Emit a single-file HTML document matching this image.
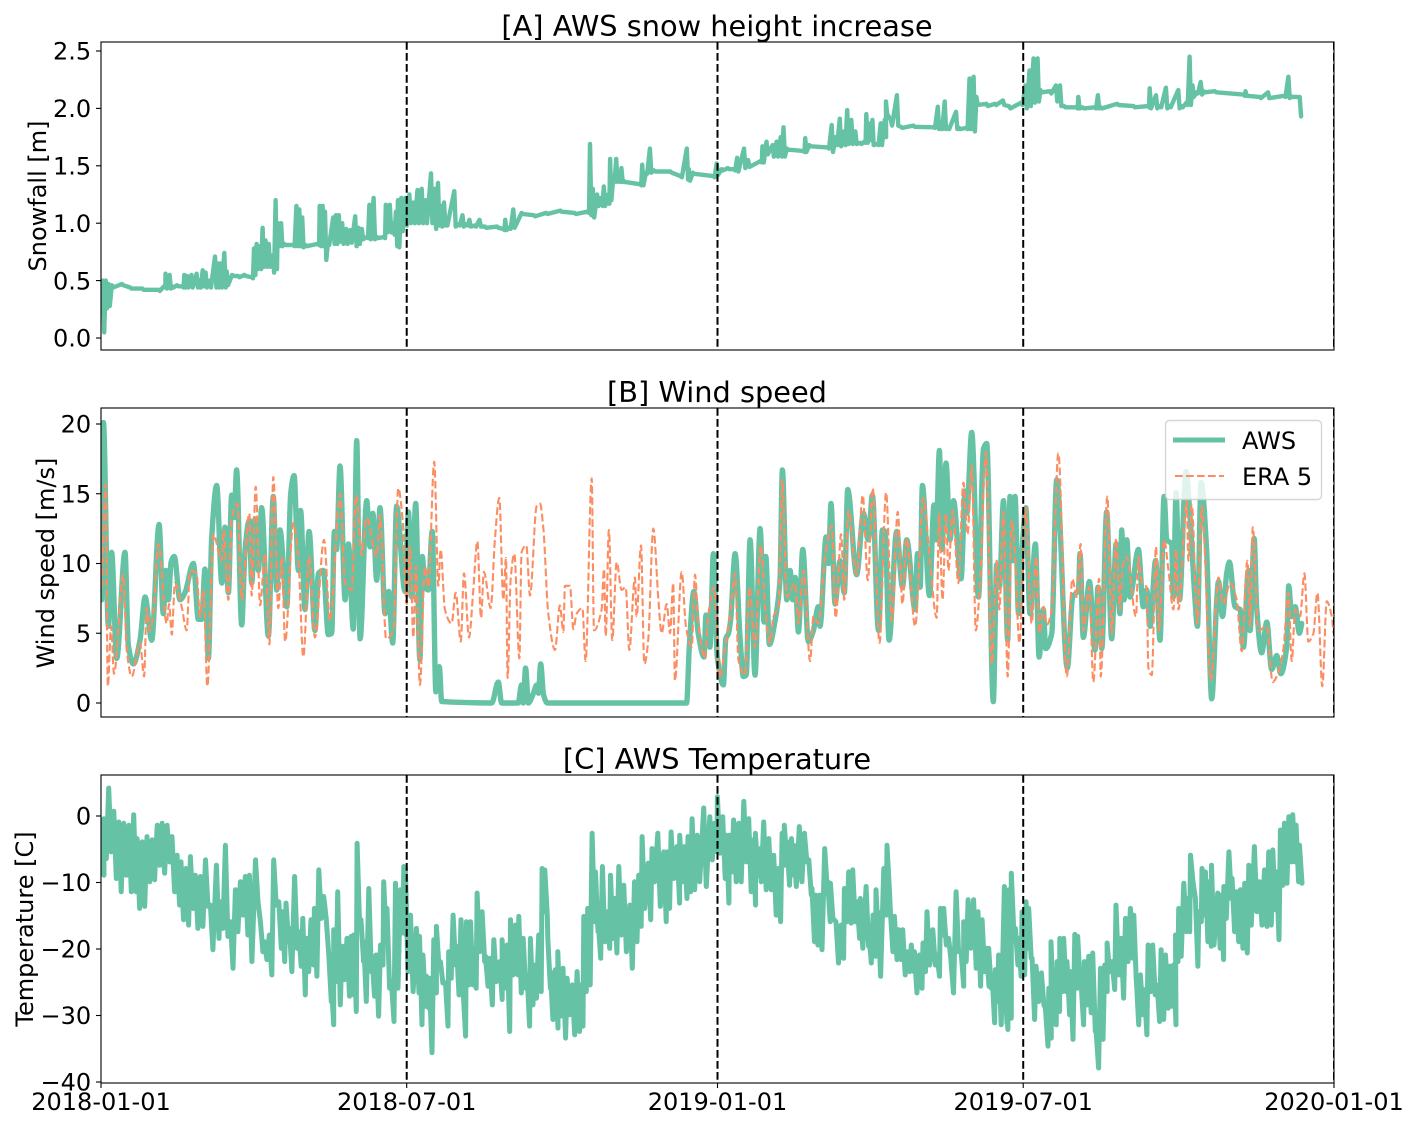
<!DOCTYPE html>
<html lang="en">
<head>
<meta charset="utf-8">
<title>AWS snow height, wind speed and temperature</title>
<style>
html,body{margin:0;padding:0;background:#fff;}
#figure{display:block;position:absolute;left:0;top:0;}
text{font-family:"DejaVu Sans","Liberation Sans",sans-serif;fill:#000;}
.title{font-size:28.8px;text-anchor:middle;}
.ylabel{font-size:24px;text-anchor:middle;}
.legend-text{font-size:24px;}
</style>
</head>
<body>
<svg id="figure" width="1416" height="1123" viewBox="0 0 1416 1123" xmlns="http://www.w3.org/2000/svg">
  <defs>
    <clipPath id="clip-a"><rect x="101" y="42" width="1233" height="308"/></clipPath>
    <clipPath id="clip-b"><rect x="101" y="408" width="1233" height="309"/></clipPath>
    <clipPath id="clip-c"><rect x="101" y="775" width="1233" height="308"/></clipPath>
  </defs>
  <text class="title" x="717" y="36">[A] AWS snow height increase</text>
  <text class="title" x="717" y="402">[B] Wind speed</text>
  <text class="title" x="717" y="769">[C] AWS Temperature</text>
  <text class="ylabel" transform="translate(46,196) rotate(-90)">Snowfall [m]</text>
  <text class="ylabel" transform="translate(54,563) rotate(-90)">Wind speed [m/s]</text>
  <text class="ylabel" transform="translate(33,929) rotate(-90)">Temperature [C]</text>
  <g id="panel-a"></g>
  <g id="panel-b"></g>
  <g id="panel-c"></g>
  <g id="legend">
    <rect x="1165.5" y="420.5" width="156" height="79" rx="4" ry="4" fill="#ffffff" fill-opacity="0.8" stroke="#cccccc" stroke-opacity="0.8" stroke-width="1.4"/>
    <line x1="1173" y1="440" x2="1225" y2="440" stroke="#66c2a5" stroke-width="5"/>
    <text class="legend-text" x="1242" y="449">AWS</text>
    <line x1="1175" y1="476" x2="1224" y2="476" stroke="#fc8d62" stroke-width="2.1" stroke-dasharray="7.7 3.3"/>
    <text class="legend-text" x="1242" y="485">ERA 5</text>
  </g>
</svg>
<script>
// Shared axis data
const xTickDays = [0, 181, 365, 546, 730];
const xTickLabels = ["2018-01-01", "2018-07-01", "2019-01-01", "2019-07-01", "2020-01-01"];
const snowTicks = [0, 0.5, 1, 1.5, 2, 2.5];
const snowTickLabels = ["0.0", "0.5", "1.0", "1.5", "2.0", "2.5"];
const windTicks = [0, 5, 10, 15, 20];
const windTickLabels = ["0", "5", "10", "15", "20"];
const tempTicks = [-40, -30, -20, -10, 0];
const tempTickLabels = ["−40", "−30", "−20", "−10", "0"];

// Panel A: AWS snow height (m). Days since 2018-01-01, with the local high and low read at each day.
const snowDays = [
1.5,3.2,4.8,6.8,12.8,17.6,24.9,34.5,37.7,38.6,
41,42.5,45.4,48.5,49.7,51.4,53.9,57,58.7,60.6,
62.3,64.7,67.9,69.5,71.2,73.4,74.8,78,81.6,85.3,
89.6,91,92.5,94.4,96.1,97.8,99.7,102.1,103.8,105,
107,108.9,114.2,116.1,117.8,119.5,121.4,128.7,129.9,131.6,
133,134.7,137.9,139.5,141.2,143.2,145.6,148,150.9,152.8,
154.8,157.7,159.3,161.8,163.7,167.8,169,171.4,173.4,175,
176.2,178.2,180.6,183,185.4,187.8,190.3,192.6,195.8,198,
199.9,201.6,203.5,204.7,209.6,212,214.4,216.8,218.5,221.6,
224.5,227.7,234.9,238.5,239.7,242.1,244.5,249.4,256.6,263.9,
272.3,280.8,288.5,289.9,291.6,294.1,296.5,298.1,300.6,301.8,
303.7,305.4,307.3,308.5,309.7,319.4,320.8,323,325.4,327.8,
337.5,343.5,347.2,348.4,350.8,362.9,364.9,367.8,371.5,375.1,
377,381.1,383.5,390.8,392,394.4,398,400.4,402.8,404.5,
406.5,416.1,417.3,419.7,430.6,433,435.4,437.8,440.3,442.2,
444.6,447,449.9,452.3,453.5,455.9,457.1,460,462,464.4,
465.1,468,471.6,474,481.3,493.4,495.8,497.7,499.9,501.8,
506.6,508.3,512.7,514.6,517,518.7,524.7,529.6,534.4,538,
545.2,547.7,550.1,552.5,554.9,556.6,562.2,565.8,568.2,570.6,
577.8,579,581.5,588.7,590.6,592.3,602,611.7,620.1,621.3,
625,627.3,630.9,632.9,638.2,640.1,643,644.9,646.6,649,
651.5,653.2,659.9,676.8,678,686.4,691.3,700.9,703.4,704.6,
709.4,710.1];
const snowHigh = [
0.5,0.5,0.47,0.46,0.47,0.44,0.43,0.42,0.45,0.56,
0.55,0.45,0.46,0.45,0.55,0.54,0.55,0.56,0.5,0.59,
0.57,0.5,0.71,0.65,0.65,0.74,0.58,0.55,0.54,0.55,
0.53,0.78,0.82,0.8,0.96,0.85,0.82,0.72,1.2,1.0,
1.0,0.82,0.81,1.15,1.12,1.05,0.81,0.82,1.15,1.15,
1.1,0.82,1.05,1.07,1.07,1.0,0.95,0.94,1.06,0.96,
0.95,0.88,1.16,1.22,0.88,0.88,1.16,1.16,1.0,1.1,
1.2,1.22,1.22,1.25,1.18,1.29,1.3,1.2,1.435,1.3,
1.35,1.15,1.18,0.99,1.28,0.99,1.07,0.99,1.03,0.98,
1.03,0.97,0.97,0.95,1.03,0.96,1.12,1.09,1.07,1.09,
1.11,1.09,1.1,1.69,1.3,1.25,1.22,1.32,1.25,1.56,
1.4,1.56,1.45,1.48,1.37,1.34,1.51,1.44,1.65,1.46,
1.45,1.41,1.65,1.47,1.44,1.41,1.52,1.47,1.48,1.47,
1.57,1.65,1.55,1.54,1.67,1.71,1.68,1.71,1.75,1.835,
1.65,1.63,1.74,1.68,1.66,1.855,1.75,1.91,1.8,1.985,
1.9,1.8,1.7,1.71,1.95,1.87,1.9,1.69,1.87,1.9,
2.06,1.9,2.115,1.84,1.85,1.835,2.015,1.83,2.06,1.83,
1.97,1.83,1.83,2.26,2.275,2.1,2.04,2.04,2.07,2.02,
2.05,2.2,2.33,2.435,2.435,2.16,2.15,2.2,2.2,2.02,
2.01,2.1,2.01,2.01,2.115,2.01,2.04,2.02,2.02,2.175,
2.115,2.02,2.18,2.02,2.16,2.02,2.05,2.45,2.2,2.14,
2.23,2.15,2.15,2.12,2.15,2.1,2.14,2.11,2.275,2.11,
2.1,2.1];
const snowLow = [
0.05,0.26,0.28,0.44,0.46,0.43,0.42,0.41,0.44,0.43,
0.43,0.44,0.45,0.44,0.44,0.44,0.44,0.44,0.44,0.45,
0.44,0.44,0.44,0.44,0.44,0.44,0.46,0.54,0.53,0.54,
0.52,0.55,0.6,0.6,0.62,0.62,0.62,0.57,0.6,0.8,
0.8,0.81,0.8,0.8,0.8,0.79,0.8,0.81,0.8,0.8,
0.68,0.81,0.82,0.82,0.84,0.82,0.82,0.83,0.8,0.82,
0.86,0.87,0.86,0.86,0.87,0.87,0.92,0.92,0.9,0.8,
0.79,0.93,0.98,1.0,1.0,1.0,1.0,1.0,1.0,0.95,
0.98,0.97,0.98,0.98,0.97,0.98,0.97,0.98,0.97,0.97,
0.97,0.96,0.96,0.94,0.94,0.95,0.96,1.08,1.06,1.08,
1.1,1.08,1.09,1.07,1.05,1.15,1.15,1.15,1.17,1.2,
1.36,1.36,1.36,1.36,1.36,1.33,1.33,1.43,1.44,1.45,
1.44,1.4,1.38,1.37,1.43,1.4,1.42,1.46,1.47,1.46,
1.45,1.48,1.49,1.53,1.53,1.6,1.58,1.58,1.58,1.58,
1.64,1.62,1.62,1.67,1.65,1.62,1.68,1.67,1.68,1.69,
1.69,1.69,1.69,1.7,1.7,1.72,1.68,1.68,1.68,1.75,
1.95,1.85,1.85,1.83,1.84,1.83,1.82,1.82,1.82,1.82,
1.82,1.82,1.82,1.82,1.8,2.03,2.02,2.03,2.03,2.0,
2.03,2.0,2.02,2.05,2.06,2.14,2.13,2.06,2.02,2.01,
2.0,2.0,2.0,2.0,2.0,2.0,2.03,2.01,2.01,2.0,
2.0,2.01,2.0,2.01,2.0,2.01,2.03,2.03,2.1,2.13,
2.12,2.14,2.14,2.11,2.11,2.09,2.09,2.1,2.09,2.1,
2.09,1.93];

// Panel B: wind speed (m/s), AWS series
const awsWindDays = [0.4,1.4,4.4,6.3,9.3,14.2,16.2,19.2,23.1,26.1,30,34.4,36.9,38.5,39.9,41.5,43.4,46.8,49.7,54.7,57.6,59.6,61.6,63.6,65.5,68.5,71.5,73.4,75.4,77.4,78.8,80.3,83.3,85.3,87.8,89.2,91.2,93.2,95.1,99.1,102,104,106,110,112.3,114.3,116.9,118.2,120.8,123.2,126.7,128.7,131.6,134.6,136.6,138.2,139.5,141.5,144.5,146.5,149.4,151.4,153.4,157.3,159.3,160.9,163.2,165.2,168.2,170.3,172.7,175,180,182,184,186.3,188.8,190.2,191.8,193.8,196.1,198.3,200.3,201.7,231.3,235.2,237.2,247,249,250,251.4,253,256,258,259,260.3,262,264.2,346.7,348.3,351,353.6,357,358.2,360.5,362.6,364.9,368.5,369.9,371.5,372.8,375.4,378.4,380.3,382,384.3,387.2,390.2,392.6,393.6,395.7,399.1,402,403.4,406,408,409.5,411,412.9,415.5,418.8,421.8,424.7,425.7,429.3,430.7,432.2,434.6,437.6,440.1,442.1,447.4,451.4,454.3,456.7,460.3,462.6,464.2,466.6,471.1,474.5,477,482,483.4,485,486.3,490.5,493.2,494.4,496.4,497.8,500.3,502.7,504.7,509.2,511.6,512.6,515.5,519.5,522.4,524.4,528.3,530.3,531.9,534.3,536.8,538.2,539.8,541.2,543.2,545.7,547.5,550,553.2,555.4,557.9,559.3,562.9,565.8,572.1,575.3,578.7,579.6,581.6,585.2,588.5,590.3,592.5,595.4,598.4,601,603.3,604.3,605.7,607.3,609.2,614.2,617.1,619.1,621.1,624.4,627,629.4,631,633.9,634.9,636.5,638.5,642.4,644.8,647.7,649.1,651.3,654.6,657.6,660.6,661.6,664,666.5,668.1,671.4,674.4,676.4,679.3,680.3,682.7,684.2,687.2,690.2,693.1,696.1,698.5,702,703.2,705,707,709.5,710.9];
const awsWindValues = [7.4,20.1,5.5,10.8,3.2,10.8,4.1,2.8,4.5,7.6,4.5,12.8,6.4,9.5,7.4,10.1,10.5,7.4,7.9,10,6,6,9.6,3.2,11.7,15.6,8.6,12.6,7.9,14.9,13.3,16.7,5.6,11,13.1,8.6,13.2,9.5,14,4.8,14.8,8.1,12.4,6.9,15,16.3,9.5,13.8,6.7,12.3,5.2,9.3,9.5,4.9,5,12.3,11,17,7.4,11.4,5.3,18.8,4.6,14.5,11.2,13.6,8.8,14,6.4,8,4.3,14.1,8,13.7,7.6,14.3,3.1,10.5,8.3,8.1,12.3,0.8,2.6,0.1,0,1.5,0,0,1.3,0,2.5,0,0.7,1.3,0.7,2.8,0.6,0,0,4,8,5,3.3,6.3,4,10.7,3.3,1.3,4.6,5,6,10.7,4.6,1.9,2,11.7,2,12.5,5.8,10.5,4.2,5.9,8.8,16.7,7.4,9.5,7.4,9,5.1,11,4.4,5.2,6.9,5.5,11.9,10,14.3,7.1,10.2,7.9,15.3,9.2,13.6,11.7,14.9,5.2,12.4,12.3,4.5,12.3,8.3,11.7,6.7,10.7,8.3,15.6,7.7,14.2,11.7,18.1,11,17.2,11.7,14.5,8.9,15.2,13.6,19.4,7.6,18.2,18.6,0.1,9.9,8.3,14.5,4.5,14.8,10.2,14.8,6.4,11.7,14,6.4,11.4,3.3,6.7,3.9,5,16,2.5,7.6,8.1,10.7,4.7,8.7,3.8,8.3,3.9,13.7,4.6,11.4,6.4,12.4,7.4,11.7,7.6,11,6.9,8.1,5.5,10.2,4.5,14.8,11.7,11.4,7.6,15.1,7.4,16.6,13.3,7.4,5.5,15.8,11,0.3,7.4,8.7,6.2,9.3,10.1,6.9,6.7,4,9.5,5.2,11.8,6.9,3.6,5.8,2.4,3.4,2.1,4,8.4,6.2,6.9,5,5.7];

// Panel B: wind speed (m/s), ERA 5 series
const eraWindDays = [0.4,2.8,4,6,7.7,13.2,15.2,18.2,23.1,25.5,27,29,31,34,38.9,40.3,41.9,43.8,47.8,50.7,52.7,56.6,58.6,60.6,63,66.5,71.5,72.5,75.4,77.4,80.7,83.3,87.8,89.2,91.6,94.2,97.1,99.7,102,105,107,109,113.9,116.9,119.8,123.2,126.7,132,135.6,141.5,144.5,148.4,151,154.4,157.3,163.2,165.2,168.8,173.1,176,178.6,181,183,184.9,186.5,188.8,191.8,193.8,197.3,199.7,201.1,203.6,207.6,210,213,214.9,217.9,220.4,222.8,225,226.7,230.7,233.2,235.8,238.2,239.8,240.7,242.5,244.7,247.7,249,251.8,254,257.9,259.9,261.9,264.8,268.8,271.7,273.7,274.7,277.7,279.6,281.6,285,286.9,290.5,291.9,296.4,297.8,298.8,300.7,302.7,305.3,308.2,310.6,312.8,316.1,317.1,319.7,321.7,324,327,330,331.9,334.9,336.9,338.8,339.8,343.8,346.3,349.7,351.7,353.6,357.6,359.6,363,366.1,369.5,372.4,375.4,377.4,381.3,383.9,387.2,390.6,393.2,396.1,398.1,401.1,403.4,406,410.9,412.9,415.9,419.8,421.8,424.7,428.7,432.6,435,438.2,440.1,442.5,447.4,451,454,456.9,460.9,464.8,468.2,471.7,474.5,477,482,486.9,490.9,494.8,496.2,498.2,500.3,501.7,504.3,507.6,510.6,513,515.5,517.9,520.1,524,527.4,530.3,531.9,534.3,536.8,539.2,541.2,543.7,547.5,551,553.6,555.6,558,559.9,562.9,566.8,571.8,575.1,577.7,580,581.6,585.2,587.5,590.9,591.9,595.8,598.4,601,603.3,604.9,607.3,612.8,614.2,616.2,619.1,620.1,622.1,624.6,626.4,629.4,632,634.9,636.5,637.9,642.8,643.8,645.8,649.1,651.7,657.2,661.6,664.5,668.5,672.4,675.4,678.7,680.3,681.9,685.2,690.2,693.7,696.1,700,703,705,707,709.9,712.5,714.8,717.8,720.2,723.1,725.7,728.7,729.7];
const eraWindValues = [8.3,15.7,1.2,5.5,2.1,9.2,3.8,1.9,4.3,1.9,6.8,5.2,6.4,11.4,5.7,7.1,4.9,8.6,6.9,5.2,9.5,9.3,6.2,8.1,1.2,12.1,10.2,12.4,7.4,13.3,14.3,7.4,13.6,7.7,15.5,7,10.7,4.2,16.2,6.8,10.5,4.4,12.9,10.2,3.3,10.5,4.7,11.7,5.9,15,8.6,8.1,14.9,10.6,13.3,10.5,13.5,4.6,5.2,15.4,13.1,7.1,11.2,4.7,9.8,1.3,9.8,8.3,17.3,8.4,11,6.7,5.7,7.9,4.4,9.3,4.7,8.1,11.6,6.1,9.4,6.8,11.7,14.7,7.4,10.4,1.8,8.8,10.7,3.2,10.8,11.3,7.7,14.1,14.3,12.5,6.4,3.8,7,5.1,8.4,8.4,5.3,6.4,6.8,3,16.1,5.2,6.7,9.6,4.8,12.4,4.5,10.1,8.1,8.3,3.8,9,6.2,11.3,2.8,4.5,12.5,7.4,5,7.1,5,8.6,1.6,9.4,5.5,4,9.2,5.7,3.2,6.4,8.3,1.8,4,6.2,9.3,3.1,2,8.3,4,11.3,6.9,4.3,6.2,6.9,16,7.6,8.6,5.7,9.5,3,6.2,5.7,10.5,12.7,6.1,12.1,7.4,13.8,9.2,14.9,8.8,15.4,4.3,15.1,5.9,13.7,7.1,11.8,5.5,14.7,10,6.1,13.6,7.4,13.6,9.5,13.8,8.6,15.8,12.1,17,5.2,7.9,18,2.8,10.2,6.7,13.7,1.9,13.1,10.5,4.3,14,5.7,10.5,5,6.9,5.6,6.7,17.9,1.9,8.9,7.6,11.4,5.2,8.3,1.5,8.9,1.9,14.8,5,11.8,6.7,9.8,10.5,6.2,10.5,8.6,8.3,2.5,2,11.2,5.2,11.7,9.5,6.7,11,6.7,14.5,10.2,14.2,5.7,14.1,1.6,9,7.1,8.6,7.4,3.7,10.2,5.5,12.6,5.2,5.5,1.5,1.9,3.8,7.9,3,6.7,6.2,9.3,4.4,5,7.9,1.2,7.3,6.2,5];

// Panel C: AWS temperature (deg C). Days since 2018-01-01, with the local high and low read at each day.
const tempDays = [
1,2.4,5.3,8.3,11.2,14.2,17.2,20.1,22.1,25.1,
28,31,34,36.9,39.9,42.8,45.8,48.1,51.1,53.7,
56.6,59.6,62.6,65.5,69.1,71.4,74.4,77.4,80.3,83.3,
86.2,88.6,92.2,95.1,97.5,100.4,103,106,108,110.3,
112.3,115.4,117.8,120.2,122.2,125.1,127.1,129.7,132.6,135.6,
137,138.5,140.9,143.5,146.4,148.8,150.4,152.4,154.7,156.3,
159.3,161.2,163.6,166.2,168.1,170.1,172.7,175.1,178,180,
181,184,187.5,189.3,191.4,193.4,195.2,197.8,199.3,201.7,
204.7,206.6,209.2,211.2,213.9,215.1,217.1,219.5,221.4,223.4,
226.4,228.4,230.9,233.3,236.8,238.2,241.2,243.2,246.1,248.1,
250.7,253,255,257,259.9,261.9,263.5,265.3,266.8,269.8,
271.2,274.3,276.7,279.7,282.6,284.6,286.6,288.9,291.5,293.5,
295.1,297.6,300.4,302.4,304.7,307.3,310.3,313.8,316.6,319.1,
321.1,324.7,327,330.4,333.9,335.9,338.3,341.8,343.4,346.2,
348.3,350.7,353.7,357.6,361.2,363.9,365.7,368.8,371,372.8,
375.3,378.3,381.3,384.2,386.8,388.2,390.1,393.1,396.1,399,
401.6,404,405.3,406.9,409.5,410.9,414.2,417.2,419.8,421.7,
423.7,426.1,429.2,431,432.6,435.9,438.9,440.9,443.4,445.8,
448.4,450.3,453.7,455.3,457.8,459.6,460.8,464.2,466.1,468.1,
470.5,473,475.4,478,480.5,482.3,485.3,487.4,489.8,493.2,
495.7,497.7,499.7,502.6,504,507,510,511.5,514.1,517.4,
520,522.4,525,526.3,528.3,530.3,532.2,535.6,536.2,538.2,
539.7,542.1,544,546.1,548.4,550,552,554.4,557.5,559.9,
561.9,563.2,564.8,566.8,568.4,570.7,572.7,574.7,577.3,579,
581,583,585.5,587.9,589.9,592.5,595,596.4,599.4,601.7,
604.7,607.3,610.2,612.2,613.6,616.1,618.5,620.7,623.4,626,
628.4,631,633.3,635.7,636.9,638.8,641.8,643.8,645.8,648.7,
650.7,652.6,654.6,656.6,658.2,661.9,663.9,665.5,668.5,670.4,
672.8,675.3,677.9,680.3,683.6,686.6,689.6,692.1,694.5,696.7,
699,701.4,704,706.3,708.3,710.3];
const tempHigh = [
-0.9,-0.4,4.2,0.7,-0.9,-1.1,-1.4,0.2,-3.4,-3.9,
-3.1,-3.6,-1.4,-1.1,-1.4,-3.1,-5.9,-6.9,-7.9,-6.1,
-8.9,-9.1,-6.6,-13.4,-7.4,-12.9,-4.4,-15.9,-11.1,-9.9,
-9.1,-8.9,-6.6,-15.9,-18.9,-17.9,-6.6,-12.9,-14.4,-13.1,
-16.9,-9.1,-17.4,-15.4,-18.4,-15.6,-13.9,-8.1,-12.1,-20.9,
-24.4,-17.1,-11.4,-19.6,-18.4,-18.1,-17.9,-4.1,-15.6,-18.9,
-10.9,-21.1,-20.9,-19.4,-9.9,-13.9,-24.9,-10.1,-11.1,-7.6,
-7.9,-14.9,-16.9,-18.1,-20.9,-24.1,-24.4,-18.6,-16.6,-21.9,
-25.1,-20.4,-14.9,-19.6,-15.6,-25.9,-15.9,-15.9,-19.9,-11.6,
-14.4,-21.1,-21.4,-18.6,-21.9,-18.6,-19.4,-15.6,-16.4,-15.1,
-18.4,-23.9,-18.4,-22.4,-17.9,-7.9,-8.1,-18.4,-23.4,-23.1,
-20.4,-22.9,-24.4,-25.4,-23.4,-25.4,-15.1,-13.9,-2.6,-8.4,
-15.9,-7.6,-14.4,-8.9,-12.4,-7.6,-10.4,-13.4,-9.9,-8.9,
-3.1,-7.1,-4.9,-2.6,-5.4,-5.4,-2.4,-4.6,-2.9,-4.6,
-3.1,-0.4,-2.9,1.2,-0.1,-1.1,2.9,-0.1,-2.9,-2.9,
-0.6,-1.1,2.2,-0.4,-3.6,-2.6,-4.9,-0.9,-3.4,-5.9,
-7.9,-2.6,-1.4,-3.9,-3.4,-4.4,-1.6,-2.6,-6.6,-10.9,
-11.9,-11.9,-4.9,-9.9,-10.1,-15.9,-16.4,-10.9,-8.4,-8.1,
-12.9,-12.4,-10.6,-17.4,-14.9,-11.1,-14.4,-7.9,-4.4,-14.4,
-15.1,-17.1,-17.1,-20.4,-19.4,-20.4,-20.9,-19.1,-14.4,-17.1,
-20.9,-13.9,-13.9,-18.4,-21.9,-11.4,-20.4,-15.9,-12.6,-12.6,
-14.4,-15.6,-19.9,-19.9,-23.9,-23.1,-20.9,-10.6,-24.9,-11.1,
-8.6,-16.9,-18.4,-14.4,-12.9,-13.9,-21.4,-22.6,-23.6,-28.9,
-25.9,-18.9,-25.9,-21.9,-18.4,-18.4,-21.9,-23.4,-17.8,-18.1,
-25.1,-21.9,-21.1,-20.6,-32.4,-22.9,-22.4,-19.1,-21.9,-13.4,
-18.4,-15.4,-13.9,-14.9,-23.9,-23.9,-26.1,-19.4,-19.4,-25.4,
-20.1,-20.9,-22.6,-22.4,-17.9,-13.9,-10.1,-12.4,-5.9,-12.4,
-14.4,-7.9,-8.4,-9.9,-7.4,-11.6,-11.9,-10.6,-5.4,-9.4,
-11.4,-11.1,-10.1,-7.4,-4.6,-9.9,-8.1,-5.4,-5.1,-8.4,
-2.1,-1.1,-0.1,0.2,-1.4,-4.4];
const tempLow = [
-8.9,-6.4,-5.4,-9.4,-11.4,-8.9,-11.4,-11.4,-13.9,-13.6,
-9.9,-9.6,-7.4,-8.6,-6.9,-11.4,-13.4,-15.6,-16.4,-13.9,
-16.9,-16.6,-13.6,-20.1,-18.4,-16.9,-18.1,-22.9,-17.4,-14.9,
-17.9,-21.9,-12.9,-20.4,-21.6,-23.9,-13.4,-19.9,-21.9,-18.9,
-23.4,-19.9,-22.6,-26.9,-23.4,-22.4,-24.1,-15.4,-15.4,-27.9,
-31.4,-24.9,-28.4,-24.6,-27.1,-26.9,-29.4,-16.9,-21.9,-27.9,
-23.4,-27.1,-30.1,-22.4,-18.4,-25.9,-30.9,-25.9,-17.6,-17.9,
-23.4,-26.4,-26.6,-31.4,-28.6,-28.9,-35.6,-26.6,-22.4,-25.1,
-31.6,-24.4,-22.4,-26.9,-25.4,-33.1,-25.4,-25.4,-25.9,-20.4,
-21.9,-25.6,-28.4,-24.9,-27.6,-25.9,-32.4,-23.9,-23.9,-26.6,
-25.9,-31.6,-28.4,-27.4,-26.4,-14.4,-14.9,-25.9,-30.6,-31.9,
-30.1,-33.4,-29.9,-32.9,-32.4,-31.6,-26.4,-25.4,-15.9,-17.4,
-21.4,-18.9,-19.9,-18.4,-20.6,-17.9,-20.4,-22.9,-18.9,-16.6,
-13.9,-15.6,-9.9,-13.6,-15.9,-13.9,-9.4,-13.1,-9.9,-12.4,
-11.4,-11.1,-9.9,-10.6,-6.6,-5.4,-5.6,-9.4,-13.1,-8.4,
-9.9,-9.9,-6.9,-11.4,-13.4,-8.9,-9.9,-11.1,-11.1,-14.9,
-15.9,-7.4,-6.4,-10.4,-8.9,-10.6,-9.9,-6.9,-11.9,-18.9,
-19.4,-20.1,-10.9,-15.9,-15.4,-22.1,-21.4,-15.9,-16.1,-15.9,
-18.4,-19.9,-19.6,-22.1,-21.1,-19.4,-24.1,-14.9,-11.4,-20.4,
-21.6,-21.6,-23.9,-23.4,-23.4,-26.6,-25.9,-23.4,-22.4,-22.4,
-24.1,-17.9,-19.4,-21.9,-26.6,-20.4,-25.6,-21.9,-19.9,-22.9,
-25.6,-23.4,-25.6,-25.9,-31.1,-27.9,-31.4,-31.1,-32.1,-30.4,
-17.4,-22.4,-24.1,-23.9,-19.9,-21.4,-30.6,-27.9,-28.4,-34.6,
-33.4,-29.9,-31.4,-29.4,-26.4,-26.4,-29.9,-33.6,-25.9,-25.4,
-31.4,-28.4,-29.6,-32.4,-37.9,-33.6,-26.4,-23.4,-26.1,-23.9,
-27.4,-21.9,-21.4,-24.9,-31.4,-29.9,-32.9,-26.4,-26.9,-30.9,
-30.6,-28.9,-28.6,-31.4,-21.9,-21.1,-17.4,-17.4,-9.9,-22.6,
-15.9,-14.9,-18.9,-19.6,-19.4,-19.9,-21.6,-15.4,-12.4,-17.4,
-18.9,-19.9,-20.6,-16.4,-14.4,-16.4,-16.6,-16.4,-14.1,-18.6,
-10.4,-10.1,-6.9,-6.9,-9.9,-10.1];

const SVG_NS = "http://www.w3.org/2000/svg";
const PLOT_LEFT = 101, PLOT_RIGHT = 1334;
const DAY_MAX = 730;
const GREEN = "#66c2a5", ORANGE = "#fc8d62";

function xScale(day) { return PLOT_LEFT + (day / DAY_MAX) * (PLOT_RIGHT - PLOT_LEFT); }
function linearScale(v0, p0, v1, p1) { return function (v) { return p0 + (v - v0) * (p1 - p0) / (v1 - v0); }; }
function make(tag, parent, attrs) {
  const el = document.createElementNS(SVG_NS, tag);
  Object.keys(attrs).forEach(function (k) { el.setAttribute(k, attrs[k]); });
  parent.appendChild(el);
  return el;
}

const snowY = linearScale(0, 338, 2.5, 51);
const windY = linearScale(0, 703, 20, 424);
const tempY = linearScale(0, 816, -40, 1082);

// Monotone cubic curve through the wind readings (the source series are smoothed).
function smoothPath(days, values, yScale) {
  const xs = days.map(xScale);
  const ys = values.map(yScale);
  const n = xs.length;
  const slopes = [];
  for (let i = 0; i < n - 1; i++) { slopes.push((ys[i + 1] - ys[i]) / (xs[i + 1] - xs[i])); }
  const tangents = [slopes[0]];
  for (let i = 1; i < n - 1; i++) {
    const a = slopes[i - 1], b = slopes[i];
    tangents.push(a * b <= 0 ? 0 : 2 * a * b / (a + b));
  }
  tangents.push(slopes[n - 2]);
  let d = "M" + xs[0].toFixed(1) + " " + ys[0].toFixed(1);
  for (let i = 0; i < n - 1; i++) {
    const h = (xs[i + 1] - xs[i]) / 3;
    d += "C" + (xs[i] + h).toFixed(1) + " " + (ys[i] + tangents[i] * h).toFixed(1) + " " +
      (xs[i + 1] - h).toFixed(1) + " " + (ys[i + 1] - tangents[i + 1] * h).toFixed(1) + " " +
      xs[i + 1].toFixed(1) + " " + ys[i + 1].toFixed(1);
  }
  return d;
}

// Alternating high/low trace for the noisy hourly series.
function rangePoints(days, highs, lows, yScale, spread) {
  const out = [];
  days.forEach(function (d, i) {
    out.push(xScale(d - spread).toFixed(1) + "," + yScale(highs[i]).toFixed(1));
    out.push(xScale(d + spread).toFixed(1) + "," + yScale(lows[i]).toFixed(1));
  });
  return out.join(" ");
}

function drawRange(panel, clip, days, highs, lows, yScale, width, spread) {
  return make("polyline", panel, { points: rangePoints(days, highs, lows, yScale, spread), fill: "none", stroke: GREEN, "stroke-width": width, "stroke-linejoin": "round", "stroke-linecap": "round", "clip-path": "url(#" + clip + ")" });
}

function drawCurve(panel, clip, days, values, yScale, color, width, dash) {
  const attrs = { d: smoothPath(days, values, yScale), fill: "none", stroke: color, "stroke-width": width, "stroke-linejoin": "round", "clip-path": "url(#" + clip + ")" };
  if (dash) { attrs["stroke-dasharray"] = dash; } else { attrs["stroke-linecap"] = "round"; }
  return make("path", panel, attrs);
}

function drawFrame(panel, clip, top, bottom, yTicks, yLabels, yScale, withXLabels) {
  xTickDays.forEach(function (d) {
    if (d === 0) { return; }
    const guide = make("line", panel, { x1: xScale(d), x2: xScale(d), y1: top, y2: bottom, stroke: "#000", "stroke-width": 2, "stroke-dasharray": "7.7 3.3", "clip-path": "url(#" + clip + ")" });
    
    
  });
  const frame = make("rect", panel, { x: PLOT_LEFT, y: top, width: PLOT_RIGHT - PLOT_LEFT, height: bottom - top, fill: "none", stroke: "#000", "stroke-width": 1.1 });
  
  
  yTicks.forEach(function (t, i) {
    const y = yScale(t);
    const tick = make("line", panel, { x1: PLOT_LEFT - 5, x2: PLOT_LEFT, y1: y, y2: y, stroke: "#000", "stroke-width": 1.1 });
    
    
    const label = make("text", panel, { x: PLOT_LEFT - 9.8, y: y + 8.7, "text-anchor": "end", "font-size": "24px" });
    label.textContent = yLabels[i];
    
    
  });
  if (withXLabels) {
    xTickDays.forEach(function (d, i) {
      const x = xScale(d);
      const tick = make("line", panel, { x1: x, x2: x, y1: bottom, y2: bottom + 5, stroke: "#000", "stroke-width": 1.1 });
      
      
      const label = make("text", panel, { x: x, y: bottom + 27, "text-anchor": "middle", "font-size": "24px" });
      label.textContent = xTickLabels[i];
      
      
    });
  }
}

const panelA = document.getElementById("panel-a");
const panelB = document.getElementById("panel-b");
const panelC = document.getElementById("panel-c");

const snowLine = drawRange(panelA, "clip-a", snowDays, snowHigh, snowLow, snowY, 4.4, 0.4);


drawFrame(panelA, "clip-a", 42, 350, snowTicks, snowTickLabels, snowY, false);

const awsWindLine = drawCurve(panelB, "clip-b", awsWindDays, awsWindValues, windY, GREEN, 5.4, null);


const eraWindLine = drawCurve(panelB, "clip-b", eraWindDays, eraWindValues, windY, ORANGE, 2.1, "7.7 3.3");


drawFrame(panelB, "clip-b", 408, 717, windTicks, windTickLabels, windY, false);

const tempLine = drawRange(panelC, "clip-c", tempDays, tempHigh, tempLow, tempY, 5, 0.75);


drawFrame(panelC, "clip-c", 775, 1083, tempTicks, tempTickLabels, tempY, true);
</script>
</body>
</html>
